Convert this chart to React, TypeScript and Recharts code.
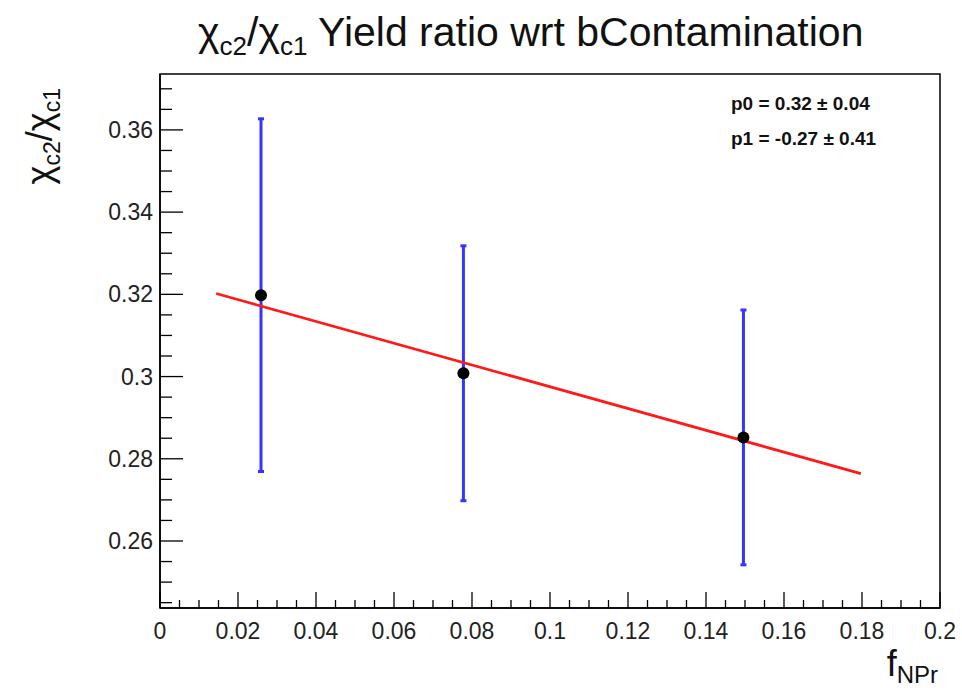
import React from "react";
import {
  ComposedChart,
  Scatter,
  Line,
  XAxis,
  YAxis,
  ErrorBar,
  ReferenceArea,
} from "recharts";

// ---- data ----
const fNPr = [0.0259, 0.0778, 0.1496];
const ratio = [0.3198, 0.3008, 0.2852];
const ratioErr = [0.0429, 0.031, 0.031];

const fitX = [0.0144, 0.1797];
const fitY = [0.3202, 0.2764];

const xMajorTicks = [0, 0.02, 0.04, 0.06, 0.08, 0.1, 0.12, 0.14, 0.16, 0.18, 0.2];
const yMajorTicks = [0.26, 0.28, 0.3, 0.32, 0.34, 0.36];
const xDomain: [number, number] = [0, 0.2];
const yDomain: [number, number] = [0.2437, 0.3736];
const minorStep = 0.005;

const statLines = ["p0 = 0.32 \u00b1 0.04", "p1 = -0.27 \u00b1 0.41"];

// ---- layout ----
const W = 962;
const H = 691;
const X_AXIS_H = 83;
const Y_AXIS_W = 160;
const M = { top: 74, right: 22, bottom: 0, left: 0 };
const PLOT_LEFT = Y_AXIS_W;
const PLOT_BOTTOM = H - X_AXIS_H;
const FONT = "'Liberation Sans', Arial, Helvetica, sans-serif";

const points = fNPr.map((x, i) => ({ x, y: ratio[i], err: ratioErr[i] }));
const fitLine = fitX.map((x, i) => ({ x, y: fitY[i] }));

function allTicks(lo: number, hi: number): number[] {
  const out: number[] = [];
  const start = Math.ceil(lo / minorStep - 1e-9);
  const end = Math.floor(hi / minorStep + 1e-9);
  for (let k = start; k <= end; k++) out.push(Number((k * minorStep).toFixed(4)));
  return out;
}
const xTicks = allTicks(xDomain[0], xDomain[1]);
const yTicks = allTicks(yDomain[0], yDomain[1]);

const isIn = (v: number, arr: number[]) => arr.some((a) => Math.abs(a - v) < 1e-7);
const fmt = (v: number) => String(Number(v.toFixed(3)));

const renderXTick = (props: any) => {
  const { x, payload, index } = props;
  const v = payload.value as number;
  const major = isIn(v, xMajorTicks);
  return (
    <g key={`xt-${index}`}>
      <line x1={x} x2={x} y1={PLOT_BOTTOM} y2={PLOT_BOTTOM - (major ? 16 : 8)} stroke="#000" strokeWidth={1.3} />
      {major && (
        <text x={x} y={PLOT_BOTTOM + 31} textAnchor="middle" fontSize={23} fontFamily={FONT} fill="#222">
          {fmt(v)}
        </text>
      )}
    </g>
  );
};

const renderYTick = (props: any) => {
  const { y, payload, index } = props;
  const v = payload.value as number;
  const major = isIn(v, yMajorTicks);
  return (
    <g key={`yt-${index}`}>
      <line x1={PLOT_LEFT} x2={PLOT_LEFT + (major ? 23 : 12)} y1={y} y2={y} stroke="#000" strokeWidth={1.3} />
      {major && (
        <text x={PLOT_LEFT - 7} y={y + 8} textAnchor="end" fontSize={23} fontFamily={FONT} fill="#222">
          {fmt(v)}
        </text>
      )}
    </g>
  );
};

const Dot = (props: any) => {
  const { cx, cy } = props;
  return <circle cx={cx} cy={cy} r={6} fill="#000" />;
};

export default function App() {
  return (
    <div style={{ position: "absolute", left: 0, top: 0, width: W, height: H, background: "#fff" }}>
      <ComposedChart width={W} height={H} margin={M}>
        <XAxis
          type="number"
          dataKey="x"
          domain={xDomain}
          ticks={xTicks}
          tick={renderXTick}
          tickLine={false}
          axisLine={{ stroke: "#000", strokeWidth: 1.5 }}
          height={X_AXIS_H}
          allowDataOverflow
          interval={0}
        />
        <YAxis
          type="number"
          dataKey="y"
          domain={yDomain}
          ticks={yTicks}
          tick={renderYTick}
          tickLine={false}
          axisLine={{ stroke: "#000", strokeWidth: 1.5 }}
          width={Y_AXIS_W}
          allowDataOverflow
          interval={0}
        />
        <ReferenceArea
          x1={xDomain[0]}
          x2={xDomain[1]}
          y1={yDomain[0]}
          y2={yDomain[1]}
          fill="none"
          fillOpacity={0}
          stroke="#000"
          strokeWidth={1.5}
        />
        <Scatter data={points} shape={<Dot />} isAnimationActive={false}>
          <ErrorBar dataKey="err" direction="y" stroke="#3535ff" strokeWidth={3} width={3} />
        </Scatter>
        <Line
          data={fitLine}
          dataKey="y"
          type="linear"
          stroke="#ff1a1a"
          strokeWidth={2.8}
          dot={false}
          activeDot={false}
          isAnimationActive={false}
        />
      </ComposedChart>
      <svg width={W} height={H} style={{ position: "absolute", left: 0, top: 0, pointerEvents: "none" }}>
        <text x={198} y={46} fontSize={41} fontFamily={FONT} fill="#111">
          {"\u03c7"}
          <tspan dy={9} fontSize={26}>c2</tspan>
          <tspan dy={-9}>/{"\u03c7"}</tspan>
          <tspan dy={9} fontSize={26}>c1</tspan>
          <tspan dy={-9}> Yield ratio wrt bContamination</tspan>
        </text>
        <text
          transform="translate(52,88) rotate(-90)"
          textAnchor="end"
          fontSize={36}
          fontFamily={FONT}
          fill="#111"
        >
          {"\u03c7"}
          <tspan dy={8} fontSize={23}>c2</tspan>
          <tspan dy={-8}>/{"\u03c7"}</tspan>
          <tspan dy={8} fontSize={23}>c1</tspan>
        </text>
        <text x={938} y={676} textAnchor="end" fontSize={36} fontFamily={FONT} fill="#111">
          f<tspan dy={7} fontSize={24}>NPr</tspan>
        </text>
        {statLines.map((s, i) => (
          <text key={s} x={731} y={110 + i * 35} fontSize={19} fontWeight="bold" fontFamily={FONT} fill="#111">
            {s}
          </text>
        ))}
      </svg>
    </div>
  );
}
